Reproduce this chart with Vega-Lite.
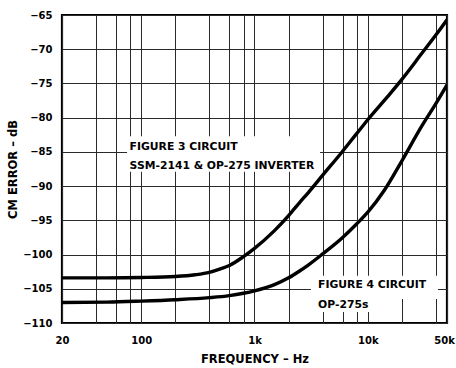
{
  "$schema": "https://vega.github.io/schema/vega-lite/v6.json",
  "width": 385,
  "height": 308,
  "autosize": {"type": "none"},
  "padding": {"left": 62, "top": 15, "right": 9, "bottom": 45},
  "background": "white",
  "config": {
    "view": {"stroke": "black", "strokeWidth": 2.2},
    "font": "DejaVu Sans",
    "axis": {
      "labelFont": "DejaVu Sans",
      "labelFontWeight": "bold",
      "labelFontSize": 10,
      "labelColor": "black",
      "titleFont": "DejaVu Sans",
      "titleFontWeight": "bold",
      "titleFontSize": 11.5,
      "titleColor": "black",
      "ticks": false,
      "tickSize": 0,
      "domain": false,
      "gridWidth": 1,
      "gridOpacity": 1,
      "gridColor": "#2a2a2a",
      "labelOverlap": false
    }
  },
  "datasets": {
    "curves": [
      {"f": 20, "db": -103.4, "s": "fig3"},
      {"f": 50, "db": -103.4, "s": "fig3"},
      {"f": 100, "db": -103.35, "s": "fig3"},
      {"f": 200, "db": -103.2, "s": "fig3"},
      {"f": 300, "db": -102.95, "s": "fig3"},
      {"f": 400, "db": -102.6, "s": "fig3"},
      {"f": 500, "db": -102.1, "s": "fig3"},
      {"f": 600, "db": -101.6, "s": "fig3"},
      {"f": 800, "db": -100.3, "s": "fig3"},
      {"f": 1000, "db": -99.1, "s": "fig3"},
      {"f": 1500, "db": -96.5, "s": "fig3"},
      {"f": 2000, "db": -94.3, "s": "fig3"},
      {"f": 2500, "db": -92.4, "s": "fig3"},
      {"f": 3000, "db": -90.9, "s": "fig3"},
      {"f": 4000, "db": -88.4, "s": "fig3"},
      {"f": 6000, "db": -84.9, "s": "fig3"},
      {"f": 8000, "db": -82.3, "s": "fig3"},
      {"f": 10000, "db": -80.3, "s": "fig3"},
      {"f": 15000, "db": -76.9, "s": "fig3"},
      {"f": 20000, "db": -74.4, "s": "fig3"},
      {"f": 30000, "db": -70.6, "s": "fig3"},
      {"f": 40000, "db": -67.9, "s": "fig3"},
      {"f": 50000, "db": -65.7, "s": "fig3"},
      {"f": 20, "db": -107.0, "s": "fig4"},
      {"f": 50, "db": -106.95, "s": "fig4"},
      {"f": 100, "db": -106.8, "s": "fig4"},
      {"f": 200, "db": -106.6, "s": "fig4"},
      {"f": 400, "db": -106.3, "s": "fig4"},
      {"f": 600, "db": -106.0, "s": "fig4"},
      {"f": 800, "db": -105.65, "s": "fig4"},
      {"f": 1000, "db": -105.3, "s": "fig4"},
      {"f": 1500, "db": -104.4, "s": "fig4"},
      {"f": 2000, "db": -103.4, "s": "fig4"},
      {"f": 2500, "db": -102.4, "s": "fig4"},
      {"f": 3000, "db": -101.5, "s": "fig4"},
      {"f": 4000, "db": -99.9, "s": "fig4"},
      {"f": 6000, "db": -97.5, "s": "fig4"},
      {"f": 8000, "db": -95.5, "s": "fig4"},
      {"f": 10000, "db": -93.8, "s": "fig4"},
      {"f": 14000, "db": -90.6, "s": "fig4"},
      {"f": 20000, "db": -86.3, "s": "fig4"},
      {"f": 30000, "db": -81.2, "s": "fig4"},
      {"f": 40000, "db": -77.9, "s": "fig4"},
      {"f": 50000, "db": -75.2, "s": "fig4"}
    ],
    "boxes": [
      {"f": 75, "f2": 3790, "db": -82.7, "db2": -87.9},
      {"f": 3150, "f2": 41600, "db": -103.1, "db2": -106.5},
      {"f": 3150, "f2": 10400, "db": -106.5, "db2": -108.4}
    ],
    "labels": [
      {"f": 79, "db": -84.3, "text": "FIGURE 3 CIRCUIT"},
      {"f": 79, "db": -87.0, "text": "SSM-2141 & OP-275 INVERTER"},
      {"f": 3640, "db": -104.5, "text": "FIGURE 4 CIRCUIT"},
      {"f": 3640, "db": -107.4, "text": "OP-275s"}
    ]
  },
  "encoding": {
    "x": {
      "field": "f", "type": "quantitative",
      "scale": {"type": "log", "domain": [20, 50000], "nice": false},
      "axis": {
        "title": "FREQUENCY – Hz",
        "values": [20, 40, 60, 80, 100, 200, 400, 600, 800, 1000, 2000, 4000, 6000, 8000, 10000, 20000, 40000, 50000],
        "labelExpr": "indexof([20,100,1000,10000,50000], datum.value) >= 0 ? (datum.value >= 1000 ? (datum.value/1000) + 'k' : datum.value + '') : ''",
        "labelOffset": {"condition": {"test": "datum.value == 50000", "value": -3}, "value": 0},
        "labelPadding": 12,
        "labelOverlap": false,
        "labelBound": false,
        "labelFlush": false,
        "titlePadding": 8,
        "grid": true
      }
    },
    "y": {
      "field": "db", "type": "quantitative",
      "scale": {"domain": [-110, -65], "nice": false, "zero": false},
      "axis": {
        "title": "CM ERROR – dB",
        "values": [-110, -105, -100, -95, -90, -85, -80, -75, -70, -65],
        "labelPadding": 10,
        "labelOverlap": false,
        "labelBound": false,
        "labelFlush": false,
        "titlePadding": 4,
        "grid": true
      }
    }
  },
  "layer": [
    {
      "data": {"name": "boxes"},
      "mark": {"type": "rect", "fill": "white", "stroke": null},
      "encoding": {
        "x2": {"field": "f2"},
        "y2": {"field": "db2"}
      }
    },
    {
      "data": {"name": "labels"},
      "mark": {"type": "text", "align": "left", "baseline": "middle", "font": "DejaVu Sans", "fontWeight": "bold", "fontSize": 10.8, "color": "black"},
      "encoding": {
        "text": {"field": "text"}
      }
    },
    {
      "data": {"name": "curves"},
      "mark": {"type": "line", "color": "black", "strokeWidth": 3.4, "interpolate": "monotone", "clip": true},
      "encoding": {
        "detail": {"field": "s"}
      }
    }
  ]
}
